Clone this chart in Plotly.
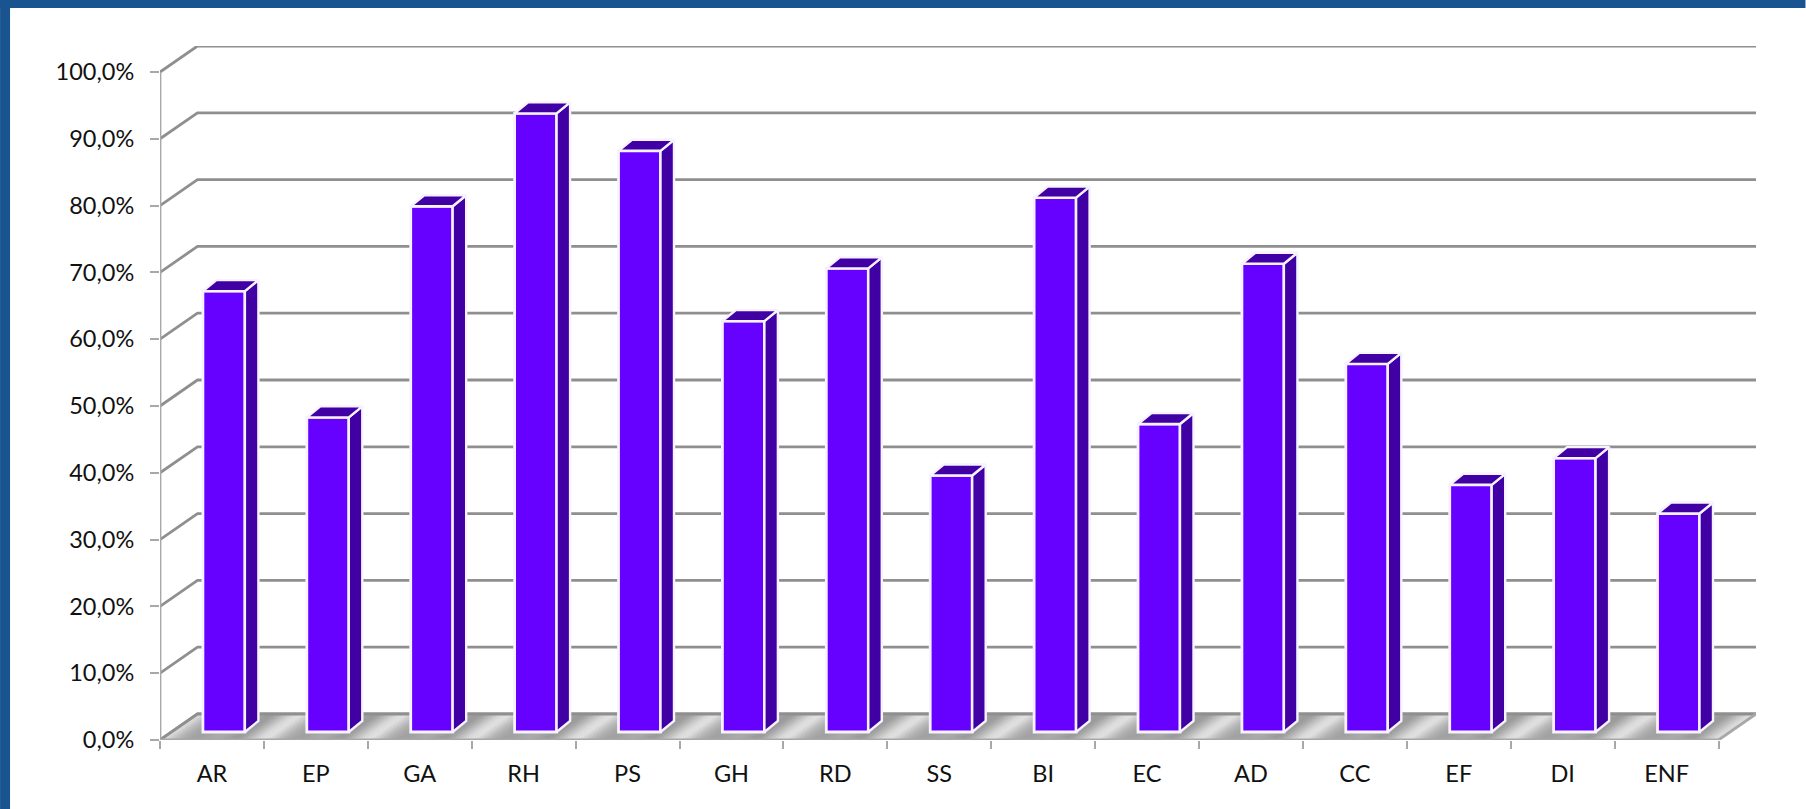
import plotly.graph_objects as go

categories = ["AR", "EP", "GA", "RH", "PS", "GH", "RD", "SS", "BI", "EC", "AD", "CC", "EF", "DI", "ENF"]
values = [66.0, 47.1, 78.7, 92.6, 87.0, 61.5, 69.4, 38.4, 80.0, 46.1, 70.1, 55.1, 37.0, 41.0, 32.7]
y_ticks = [0, 10, 20, 30, 40, 50, 60, 70, 80, 90, 100]
y_labels = ["0,0%", "10,0%", "20,0%", "30,0%", "40,0%", "50,0%", "60,0%", "70,0%", "80,0%", "90,0%", "100,0%"]
floor_colors = ["#e0e0e0", "#d6d6d6", "#cacaca", "#bebebe", "#b4b4b4", "#adadad", "#a7a7a7", "#a3a3a3",
                "#a1a1a1", "#a2a2a2", "#a4a4a4", "#a7a7a7", "#a9a9a9", "#aaaaaa", "#a9a9a9", "#a6a6a6",
                "#a2a2a2", "#9e9e9e", "#9b9b9b", "#9e9e9e", "#a7a7a7", "#b3b3b3", "#c0c0c0", "#cdcdcd",
                "#d8d8d8", "#dedede"]

W, H = 1806, 809
WALL_PX = 37.5
LEFT, RIGHT, TOP, BOTTOM = 160, W - 1719 - WALL_PX, 46, 69
N = len(categories)
X_UNIT = (1719 - 160) / N
Y_UNIT = (740 - 72) / 100
WALL_DX = WALL_PX / X_UNIT
WALL_DY = 26 / Y_UNIT
BAR_DX = 13.5 / X_UNIT
BAR_DY = 11 / Y_UNIT
BAR_W = 42 / X_UNIT
BAR_OFF = 0.615
BAR_BASE = 1.2
x_range = [0, N + WALL_DX]
y_range = [0, 100 + WALL_DY]
GRID = "#8f8f8f"
AXIS = "#a8a8a8"
OUTLINE = "#f6f2ff"
FONT = dict(family="Lato, Noto Sans, sans-serif", size=23.5, color="#111111")

fig = go.Figure()


def poly(xs, ys, color, axes=("x", "y"), line=None, width=0):
    fig.add_trace(go.Scatter(
        x=xs, y=ys, mode="lines", fill="toself", fillcolor=color,
        line=dict(color=line or color, width=width), hoverinfo="skip",
        showlegend=False, xaxis=axes[0], yaxis=axes[1], cliponaxis=False))


def lines(xs, ys, color, width):
    fig.add_trace(go.Scatter(
        x=xs, y=ys, mode="lines", line=dict(color=color, width=width),
        hoverinfo="skip", showlegend=False, cliponaxis=False))


# back wall and side wall grid lines
gx, gy = [], []
for t in y_ticks:
    gx += [0, WALL_DX, N + WALL_DX, None]
    gy += [t, t + WALL_DY, t + WALL_DY, None]
lines(gx, gy, GRID, 2.8)

# floor
poly([0, WALL_DX, N + WALL_DX, N], [0, WALL_DY, WALL_DY, 0], "#a8a8a8")
steps = len(floor_colors)
for k, col in enumerate(floor_colors):
    px, py = [], []
    for i in range(N):
        a = i + k / steps
        b = i + (k + 1) / steps
        px += [a, a + WALL_DX, b + WALL_DX, b, a, None]
        py += [0, WALL_DY, WALL_DY, 0, 0, None]
    poly(px, py, col, width=1)
lines([0, WALL_DX, N + WALL_DX], [0, WALL_DY, WALL_DY], GRID, 2.8)
lines([N + WALL_DX, N], [WALL_DY, 0], AXIS, 2.8)

# axis lines
lines([0, 0], [0, 100], AXIS, 2.8)
lines([0, N], [0, 0], AXIS, 2.8)

# bars: front faces, on an overlay pair of axes so they sit above the walls
fig.add_trace(go.Bar(
    x=[i + BAR_OFF for i in range(N)], y=values, base=BAR_BASE, width=BAR_W,
    marker=dict(color="#6600ff", line=dict(color=OUTLINE, width=2.8)),
    xaxis="x2", yaxis="y2", showlegend=False, hovertext=categories, hoverinfo="text+y"))

for i, v in enumerate(values):
    x0 = i + BAR_OFF - BAR_W / 2
    x1 = x0 + BAR_W
    top = v + BAR_BASE
    poly([x1, x1 + BAR_DX, x1 + BAR_DX, x1, x1], [BAR_BASE, BAR_BASE + BAR_DY, top + BAR_DY, top, BAR_BASE],
         "#4000a4", axes=("x2", "y2"), line=OUTLINE, width=2.4)
    poly([x0, x0 + BAR_DX, x1 + BAR_DX, x1, x0], [top, top + BAR_DY, top + BAR_DY, top, top],
         "#4000a4", axes=("x2", "y2"), line=OUTLINE, width=2.4)

fig.update_layout(
    width=W, height=H, autosize=False,
    margin=dict(l=LEFT, r=RIGHT, t=TOP, b=BOTTOM, pad=0),
    paper_bgcolor="white", plot_bgcolor="rgba(0,0,0,0)",
    showlegend=False, barmode="overlay",
    xaxis=dict(
        range=x_range, tickmode="array",
        tickvals=[i + 0.5 for i in range(N)], ticktext=categories,
        ticks="", showgrid=False, zeroline=False, showline=False,
        tickfont=FONT, ticklabelstandoff=17, automargin=False,
        minor=dict(tickmode="array", tickvals=list(range(N + 1)), ticks="outside",
                   ticklen=8, tickwidth=2.4, tickcolor=AXIS, showgrid=False)),
    yaxis=dict(
        range=y_range, tickmode="array", tickvals=y_ticks, ticktext=y_labels,
        ticks="outside", ticklen=9, tickwidth=2.4, tickcolor=AXIS,
        showgrid=False, zeroline=False, showline=False,
        tickfont=FONT, ticklabelstandoff=11, automargin=False),
    xaxis2=dict(range=x_range, overlaying="x", visible=False),
    yaxis2=dict(range=y_range, overlaying="y", visible=False),
    shapes=[
        dict(type="rect", xref="paper", yref="paper", layer="above", line_width=0, fillcolor="#1a5490",
             x0=-LEFT / (W - LEFT - RIGHT), x1=(W - LEFT) / (W - LEFT - RIGHT),
             y0=(H - BOTTOM - 8) / (H - TOP - BOTTOM), y1=(H - BOTTOM) / (H - TOP - BOTTOM)),
        dict(type="rect", xref="paper", yref="paper", layer="above", line_width=0, fillcolor="#1a5490",
             x0=-LEFT / (W - LEFT - RIGHT), x1=(10 - LEFT) / (W - LEFT - RIGHT),
             y0=-BOTTOM / (H - TOP - BOTTOM), y1=(H - BOTTOM) / (H - TOP - BOTTOM)),
    ],
)

fig.write_html("out.html", config=dict(displayModeBar=False),
               post_script="document.body.style.margin='0';document.body.style.overflow='hidden';")
